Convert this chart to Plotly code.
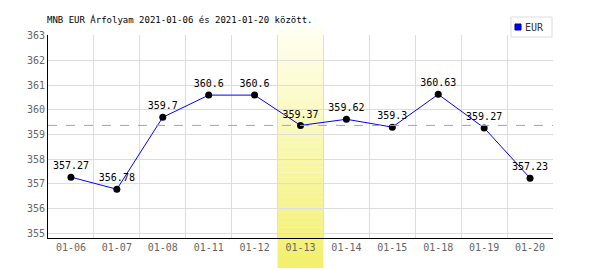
import plotly.graph_objects as go

dates = ["01-06", "01-07", "01-08", "01-11", "01-12", "01-13", "01-14", "01-15", "01-18", "01-19", "01-20"]
eur = [357.27, 356.78, 359.70, 360.60, 360.60, 359.37, 359.62, 359.30, 360.63, 359.27, 357.23]
labels = ["357.27", "356.78", "359.7", "360.6", "360.6", "359.37", "359.62", "359.3", "360.63", "359.27", "357.23"]
highlight = "01-13"
title = "MNB EUR Árfolyam 2021-01-06 és 2021-01-20 között."
series_name = "EUR"

W, H = 600, 270
ML, MR, MT, MB = 48, 47, 35, 32
PW = W - ML - MR
PH = H - MT - MB

def px_to_paper_x(px):
    return (px - ML) / PW

def px_to_paper_y(py):
    return (H - MB - py) / PH

xs = list(range(len(dates)))
hi = dates.index(highlight)
mono = "DejaVu Sans Mono"

fig = go.Figure()
fig.add_trace(go.Scatter(
    x=xs, y=eur, mode="lines+markers+text", text=labels,
    textposition="top center", textfont=dict(family=mono, size=10, color="#000"),
    line=dict(color="#0000ff", width=1),
    marker=dict(color="#000", size=7),
    name=series_name, showlegend=False, cliponaxis=False,
))

shapes = []
# gradient highlight band
n = 48
top = (255, 255, 242)
bot = (242, 240, 108)
y_top = px_to_paper_y(27)
y_bot = px_to_paper_y(268)
for i in range(n):
    t = i / (n - 1)
    c = tuple(round(top[k] + (bot[k] - top[k]) * t) for k in range(3))
    ya = y_top + (y_bot - y_top) * i / n
    yb = y_top + (y_bot - y_top) * (i + 1) / n
    shapes.append(dict(type="rect", xref="x", yref="paper", x0=hi - 0.5, x1=hi + 0.5,
                       y0=yb, y1=ya + 0.001, fillcolor="rgb(%d,%d,%d)" % c,
                       line=dict(width=0), layer="below"))
# dashed reference line at highlighted value
shapes.append(dict(type="line", xref="paper", yref="y", x0=0, x1=1, y0=eur[hi], y1=eur[hi],
                   line=dict(color="#9999ff", width=1, dash="dash"), layer="above"))
# legend box
shapes.append(dict(type="rect", xref="paper", yref="paper",
                   x0=px_to_paper_x(511), x1=px_to_paper_x(552),
                   y0=px_to_paper_y(37), y1=px_to_paper_y(17),
                   fillcolor="#fff", line=dict(color="#dddddd", width=1)))
shapes.append(dict(type="rect", xref="paper", yref="paper",
                   x0=px_to_paper_x(515), x1=px_to_paper_x(521),
                   y0=px_to_paper_y(30), y1=px_to_paper_y(24),
                   fillcolor="#0000ff", line=dict(color="#000080", width=1)))

annotations = [
    dict(text=series_name, xref="paper", yref="paper", x=px_to_paper_x(523), y=px_to_paper_y(27.5),
         xanchor="left", yanchor="middle", showarrow=False,
         font=dict(family=mono, size=10, color="#333")),
]

fig.update_layout(
    width=W, height=H,
    margin=dict(l=ML, r=MR, t=MT, b=MB, pad=0),
    paper_bgcolor="#fff", plot_bgcolor="rgba(0,0,0,0)",
    title=dict(text=title, x=47 / W, y=1 - 20 / H, xanchor="left", yanchor="middle",
               xref="container", yref="container",
               font=dict(family=mono, size=9, color="#000")),
    shapes=shapes, annotations=annotations,
    xaxis=dict(range=[-0.5, len(dates) - 0.5], tickvals=xs, ticktext=dates,
               showgrid=False, zeroline=False, showline=True, linecolor="#000", linewidth=1,
               ticks="", tickfont=dict(family=mono, size=10, color="#666"),
               minor=dict(tickvals=[i + 0.5 for i in xs], showgrid=True, gridcolor="#dddddd",
                          gridwidth=1, ticks=""),
               fixedrange=True),
    yaxis=dict(range=[354.8, 363.04], tickvals=list(range(355, 364)),
               showgrid=True, gridcolor="#dddddd", gridwidth=1, zeroline=False,
               showline=True, linecolor="#000", linewidth=1, ticks="",
               tickfont=dict(family=mono, size=10, color="#666"), fixedrange=True),
    font=dict(family=mono),
)

fig.write_html("out.html")
